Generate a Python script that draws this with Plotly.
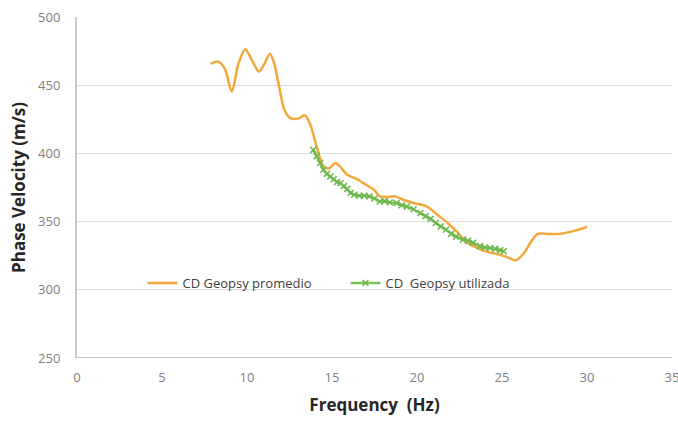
import plotly.graph_objects as go

# CD Geopsy promedio (orange)
freq_prom = [7.86, 8.3, 8.7, 9.1, 9.5, 9.9, 10.3, 10.7, 11.0, 11.35, 11.6, 11.85, 12.2, 12.55, 13.0, 13.4, 13.7, 14.1, 14.5, 14.8, 15.2, 15.5, 15.9, 16.5, 17.0, 17.5, 17.8, 18.2, 18.7, 19.2, 19.8, 20.6, 21.2, 21.8, 22.4, 22.9, 23.5, 24.1, 24.8, 25.3, 25.8, 26.3, 26.7, 27.1, 27.7, 28.4, 29.2, 30.0]
vel_prom = [465.6, 467.3, 462, 445.3, 466, 476.3, 468, 460, 465, 473, 466, 451.5, 432, 425.8, 425.5, 428, 422, 405, 390.4, 389, 392.9, 390, 384.3, 381, 377, 373, 368.5, 368, 368.5, 366, 363.6, 361, 355, 349, 342, 335, 331, 328, 326, 324, 321.6, 327, 335, 341, 341, 341, 343, 346]

# CD Geopsy utilizada (green)
freq_util = [13.9, 14.1, 14.3, 14.5, 14.7, 14.9, 15.1, 15.3, 15.5, 15.7, 15.9, 16.1, 16.3, 16.6, 16.9, 17.2, 17.5, 17.8, 18.1, 18.4, 18.8, 19.1, 19.4, 19.8, 20.2, 20.5, 20.8, 21.1, 21.4, 21.7, 22.0, 22.3, 22.7, 23.0, 23.3, 23.7, 24.0, 24.3, 24.6, 24.9, 25.1]
vel_util = [402.6, 398, 393, 388, 385, 383, 381, 379, 378.3, 376, 374, 371, 369.7, 369, 369, 368.5, 367, 364.8, 365, 364, 363.6, 362, 361, 359, 356.3, 354, 352, 349, 346.5, 344, 341, 339, 336.8, 336, 334.4, 332, 331, 330.7, 330, 329, 328.2]

x_ticks = [0, 5, 10, 15, 20, 25, 30, 35]
y_ticks = [250, 300, 350, 400, 450, 500]

FONT = "Open Sans"

fig = go.Figure()
fig.add_trace(go.Scatter(
    x=freq_prom, y=vel_prom, mode="lines", name="CD Geopsy promedio",
    line=dict(color="#F2A83A", width=2.5, shape="spline", smoothing=0.8),
))
fig.add_trace(go.Scatter(
    x=freq_util, y=vel_util, mode="lines+markers", name="CD  Geopsy utilizada",
    line=dict(color="#7CC35A", width=2.5),
    marker=dict(symbol="x-thin", size=6, color="#6DB84A", line=dict(width=1.5, color="#6DB84A")),
))

fig.update_layout(
    width=678, height=421,
    margin=dict(l=77, r=6, t=17, b=63),
    paper_bgcolor="white", plot_bgcolor="white",
    font=dict(family=FONT, color="#595959", size=11),
    showlegend=True,
    legend=dict(
        orientation="h", x=0.11, y=0.22, xanchor="left", yanchor="middle",
        bgcolor="rgba(0,0,0,0)", font=dict(size=13, color="#404040"),
        itemwidth=30, tracegroupgap=0, entrywidth=158,
    ),
    xaxis=dict(
        range=[0, 35], tickvals=x_ticks, ticks="", showgrid=False,
        showline=False, zeroline=False, ticklabeloverflow="allow",
        ticklabelstandoff=10, automargin=False,
        tickfont=dict(size=13, color="#7f7f7f"),
        title=dict(text="<b>Frequency  (Hz)</b>", font=dict(size=17, color="#262626"), standoff=14),
    ),
    yaxis=dict(
        range=[250, 500], tickvals=y_ticks, ticks="", showgrid=True,
        gridcolor="#dcdcdc", gridwidth=1, showline=True, linecolor="#c8c8c8", linewidth=2,
        zeroline=False, ticklabelstandoff=12, automargin=False,
        tickfont=dict(size=13, color="#7f7f7f"),
        title=dict(text="<b>Phase Velocity (m/s)</b>", font=dict(size=17, color="#262626"), standoff=8),
    ),
)
fig.add_shape(type="line", xref="paper", yref="y", x0=0, x1=1, y0=250, y1=250,
              line=dict(color="#c8c8c8", width=2))

fig.write_html("out.html")
